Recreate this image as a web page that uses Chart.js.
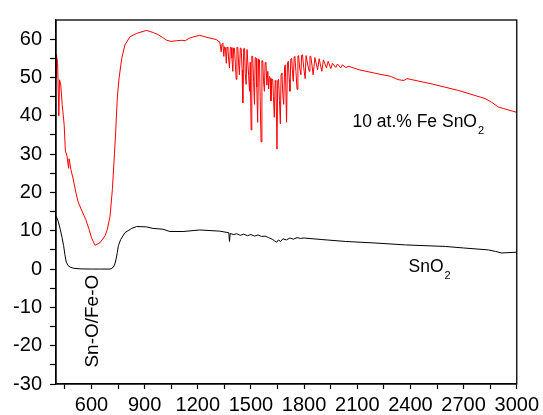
<!DOCTYPE html>
<html>
<head>
<meta charset="utf-8">
<script src="https://cdn.jsdelivr.net/npm/chart.js@4/dist/chart.umd.min.js"></script>
<style>
  html, body { margin: 0; padding: 0; background: #fff; }
  #wrap { width: 543px; height: 415px; }
</style>
</head>
<body>
<div id="wrap"><canvas id="chart-ftir"></canvas></div>
<script>
'use strict';
// wavenumber (cm-1) and transmittance
let feX = [400, 402, 409, 416, 420, 427, 435, 446, 453, 462, 471, 474, 484, 497, 512, 525, 544, 568, 587, 600, 620,
    649, 677, 690, 705, 718, 730, 737, 746, 756, 771, 789, 817, 855, 911, 950, 975, 1000, 1025, 1050, 1080, 1110, 1130, 1150, 1175,
    1211, 1258, 1304, 1315, 1323, 1328, 1332, 1337, 1342, 1347, 1351, 1356, 1361, 1365, 1370, 1374, 1379, 1384, 1389, 1393,
    1398, 1402, 1407, 1412, 1417, 1421, 1426, 1430, 1435, 1440, 1445, 1450, 1454, 1459, 1464, 1468, 1473, 1478, 1482, 1487,
    1492, 1496, 1501, 1505, 1510, 1515, 1520, 1524, 1529, 1533, 1538, 1543, 1548, 1552, 1557, 1562, 1567, 1571, 1576, 1580,
    1585, 1590, 1595, 1600, 1604, 1609, 1613, 1618, 1623, 1627, 1632, 1637, 1641, 1647, 1651, 1656, 1661, 1666, 1670, 1675,
    1680, 1685, 1690, 1694, 1701, 1706, 1711, 1716, 1720, 1725, 1730, 1735, 1739, 1744, 1748, 1754, 1760, 1765, 1769, 1775,
    1782, 1786, 1791, 1798, 1806, 1811, 1816, 1822, 1829, 1833, 1838, 1845, 1851, 1861,
    1876, 1885, 1900, 1909, 1926, 1936, 1951, 1960, 1979, 1988, 2007, 2016, 2035, 2053, 2110, 2222, 2288, 2316, 2335, 2363,
    2381, 2522, 2672, 2821, 2859, 2896, 2924, 3000];
let feY = [50, 56, 53.7, 40, 49.4, 48, 42.9, 37.7, 30.8, 29.5, 26.3, 28.8, 26, 23.5, 20, 17.5, 15.4, 12.9, 10.3, 8.2, 6.2,
    6.9, 8.7, 10.4, 13.8, 20.7, 30.1, 36.1, 44.7, 49.9, 55, 58.5, 60.6, 61.5, 62.3, 61.7, 61.2, 60.5, 59.7, 59.4, 59.6, 59.7, 59.6, 60.2, 60.6,
    61.0, 60.4, 59.9, 59.5, 59.3, 58.2, 56.7, 58.8, 58.9, 55.5, 58.0, 57.8, 53.7, 57.9, 57.6, 54.8, 52.5, 57.9, 57.8, 55.0,
    51.6, 57.7, 57.6, 53.5, 49.5, 57.9, 57.8, 54.0, 50.7, 57.7, 57.6, 52.0, 43.4, 57.5, 57.6, 51.0, 48.2, 57.3, 57.3, 50.5,
    46.4, 54.0, 36.3, 55.6, 55.5, 49.0, 43.0, 55.2, 55.0, 47.5, 38.3, 54.8, 54.6, 45.0, 33.2, 54.4, 54.3, 49.0, 46.4, 53.9,
    53.7, 48.0, 51.6, 47.0, 50.3, 49.8, 43.9, 49.6, 49.5, 45.0, 39.6, 49.2, 49.0, 31.3, 49.2, 49.5, 44.0, 37.9, 50.8, 51.2,
    45.5, 43.0, 52.8, 53.3, 38.3, 53.8, 54.2, 49.5, 46.4, 54.8, 55.0, 51.0, 49.0, 55.3, 55.5, 51.5, 46.9, 55.6, 55.7, 52.5,
    50.7, 55.8, 55.9, 52.5, 49.7, 55.7, 55.7, 53.0, 51.6, 55.5, 55.5, 53.0, 50.7, 55.2,
    52.0, 54.9, 51.6, 54.6, 52.5, 54.2, 52.3, 53.7, 52.6, 53.5, 52.5, 53.3, 52.6, 52.9, 52.0, 50.9, 50.3, 49.7, 49.4, 49.2,
    49.7, 48.3, 46.6, 44.5, 43.5, 42.3, 41.9, 40.9];
let snX = [400, 412, 424, 434, 443, 450, 458, 468, 480, 500, 536, 600, 650, 705, 715, 724, 732, 739, 746, 752, 765, 789, 827,
    855, 911, 948, 1004, 1042, 1117, 1211, 1323, 1360, 1375, 1379, 1383, 1400, 1420, 1440, 1460, 1480, 1500, 1520, 1540, 1560,
    1580, 1600, 1620, 1635, 1645, 1655, 1668, 1680, 1700, 1720, 1740, 1760, 1780, 1800, 1900, 2035, 2200, 2372, 2597, 2700,
    2840, 2880, 2915, 3000];
let snY = [13.9, 12.5, 10.4, 8.2, 6.1, 3.8, 1.8, 0.9, 0.5, 0.2, 0.05, 0, 0, 0, 0.2, 0.5, 1.3, 2.6, 4.3, 6.1, 7.7, 9.5, 10.6,
    11.1, 11, 10.6, 10.4, 9.8, 9.8, 10.2, 9.9, 9.6, 9.5, 7.2, 9.3, 9.0, 9.2, 8.8, 9.1, 8.7, 9.0, 8.6, 8.9, 8.5,
    8.6, 8.2, 7.8, 7.3, 7.0, 7.6, 7.2, 7.9, 7.6, 8.1, 7.8, 8.2, 8.0, 8.1, 7.7, 7.2, 6.8, 6.3, 5.9, 5.5,
    5.0, 4.6, 4.2, 4.4];
let xTicks = [450, 600, 750, 900, 1050, 1200, 1350, 1500, 1650, 1800, 1950, 2100, 2250, 2400, 2550, 2700, 2850, 3000];
let yTicks = [-30, -25, -20, -15, -10, -5, 0, 5, 10, 15, 20, 25, 30, 35, 40, 45, 50, 55, 60];

let FONT = 'Liberation Sans, Arial, sans-serif';

function ToPoints(xs, ys){
    return xs.map((x, i) => ({x: x, y: ys[i]}));
}

// label with a subscript digit at the end, e.g. SnO2
function DrawSubText(ctx, text, sub, x, y, size){
    ctx.font = size + 'px ' + FONT;
    ctx.textAlign = 'left';
    ctx.textBaseline = 'alphabetic';
    ctx.fillText(text, x, y);
    let w = ctx.measureText(text).width;
    ctx.font = Math.round(size * 0.62) + 'px ' + FONT;
    ctx.fillText(sub, x + w + 1, y + 7);
}

let framePlugin = {
    id: 'frame',
    afterDraw(chart){
        let ctx = chart.ctx;
        let a = chart.chartArea;
        let sx = chart.scales.x;
        let sy = chart.scales.y;
        ctx.save();
        ctx.strokeStyle = '#000';
        ctx.lineWidth = 1.3;
        ctx.strokeRect(a.left, a.top, a.right - a.left, a.bottom - a.top);

        ctx.fillStyle = '#000';
        DrawSubText(ctx, '10 at.% Fe SnO', '2', sx.getPixelForValue(2073), sy.getPixelForValue(37.2), 17.5);
        DrawSubText(ctx, 'SnO', '2', sx.getPixelForValue(2389), sy.getPixelForValue(-0.7), 17.5);

        ctx.translate(sx.getPixelForValue(608), sy.getPixelForValue(-13.6));
        ctx.rotate(-Math.PI / 2);
        ctx.font = '19px ' + FONT;
        ctx.textAlign = 'center';
        ctx.textBaseline = 'middle';
        ctx.fillText('Sn-O/Fe-O', 0, 0);
        ctx.restore();
    }
};

let ctx = document.getElementById('chart-ftir').getContext('2d');
let chartFtir = new Chart(ctx, {
    type: 'line',
    data: {
        datasets: [
            {label: '10 at.% Fe SnO2', data: ToPoints(feX, feY), borderColor: '#ff0000', borderWidth: 1, pointRadius: 0, tension: 0},
            {label: 'SnO2', data: ToPoints(snX, snY), borderColor: '#000000', borderWidth: 1, pointRadius: 0, tension: 0}
        ]
    },
    options: {
        responsive: true,
        maintainAspectRatio: false,
        animation: false,
        layout: {padding: {top: 14, right: 25.5, left: 0, bottom: 0}},
        plugins: {legend: {display: false}, tooltip: {enabled: false}},
        scales: {
            x: {
                type: 'linear',
                min: 400,
                max: 3000,
                afterBuildTicks: s => { s.ticks = xTicks.map(v => ({value: v})); },
                afterFit: s => { s.height = 31; },
                ticks: {
                    autoSkip: false,
                    maxRotation: 0,
                    padding: 4,
                    color: '#000',
                    font: {family: FONT, size: 20},
                    callback: v => (v % 300 === 0 ? String(v) : '')
                },
                grid: {drawOnChartArea: false, drawTicks: true, tickLength: 5, tickColor: '#000', tickWidth: 1.2, color: '#000'},
                border: {display: true, color: '#000', width: 1.3}
            },
            y: {
                min: -30,
                max: 65,
                afterBuildTicks: s => { s.ticks = yTicks.map(v => ({value: v})); },
                afterFit: s => { s.width = 56; },
                ticks: {
                    autoSkip: false,
                    padding: 8,
                    color: '#000',
                    font: {family: FONT, size: 20},
                    callback: v => (v % 10 === 0 ? String(v) : '')
                },
                grid: {drawOnChartArea: false, drawTicks: true, tickLength: 6, tickColor: '#000', tickWidth: 1.2, color: '#000'},
                border: {display: true, color: '#000', width: 1.3}
            }
        }
    },
    plugins: [framePlugin]
});
</script>
</body>
</html>
